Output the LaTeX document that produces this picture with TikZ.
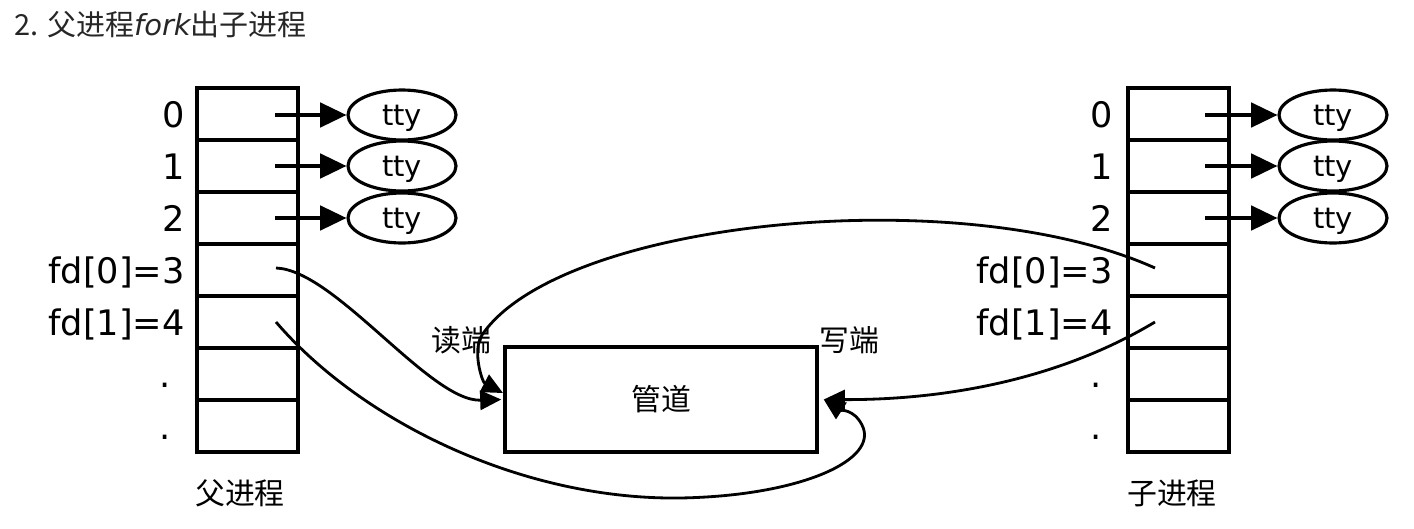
\documentclass[tikz,border=0pt]{standalone}
\usepackage{fontspec}
\setmainfont{DejaVu Sans}
\newfontfamily\cjk{Noto Sans CJK SC}
\usetikzlibrary{shapes.geometric,arrows.meta}
\begin{document}
\begin{tikzpicture}[x=0.02cm,y=-0.02cm,
  cell/.style={draw,line width=2pt,minimum width=2.02cm,minimum height=1.04cm,inner sep=0,outer sep=0},
  ttynode/.style={draw,ellipse,line width=1.8pt,minimum width=2.16cm,minimum height=1.0cm,inner sep=0,text depth=0pt,font=\fontsize{16.5}{18}\selectfont},
  lbl/.style={anchor=base east,inner sep=0,font=\fontsize{20}{22}\selectfont},
  dotlbl/.style={anchor=base,inner sep=0,font=\fontsize{20}{22}\selectfont},
  cn/.style={inner sep=0,font=\cjk\fontsize{17}{20}\selectfont},
  ptr/.style={line width=1.8pt,-{Triangle[length=15pt,width=14pt]}},
  link/.style={line width=1.6pt,-{Triangle[length=12pt,width=11pt]}},
]
\useasboundingbox (0,0) rectangle (1414,528);

% title
\node[anchor=base west,inner sep=0,font=\fontsize{16.5}{19}\selectfont,text=black!85] (title) at (14,35)
  {{\cjk 2. 父进程}{\itshape fork}{\cjk 出子进程}};

% tables
\foreach \i in {0,...,6} {
  \node[cell] (L\i) at (247.5,{114+52*\i}) {};
  \node[cell] (R\i) at (1178.5,{114+52*\i}) {};
}

% left labels
\node[lbl] (lL0) at (185,127) {0};
\node[lbl] (lL1) at (185,179) {1};
\node[lbl] (lL2) at (185,231) {2};
\node[lbl] (lL3) at (185,283) {fd[0]=3};
\node[lbl] (lL4) at (185,335) {fd[1]=4};
\node[dotlbl] (lL5) at (165,387) {.};
\node[dotlbl] (lL6) at (165,439) {.};

% right labels
\node[lbl] (lR0) at (1113,127) {0};
\node[lbl] (lR1) at (1113,179) {1};
\node[lbl] (lR2) at (1113,231) {2};
\node[lbl] (lR3) at (1113,283) {fd[0]=3};
\node[lbl] (lR4) at (1113,335) {fd[1]=4};
\node[dotlbl] (lR5) at (1096,387) {.};
\node[dotlbl] (lR6) at (1096,439) {.};

% tty ellipses
\foreach \i/\y in {0/115,1/166,2/218} {
  \node[ttynode] (TL\i) at (402,\y) {tty};
  \node[ttynode] (TR\i) at (1333,\y) {tty};
  \coordinate (sL\i) at (275,\y);
  \coordinate (sR\i) at (1205,\y);
  \draw[ptr] (sL\i) -- (TL\i.west);
  \draw[ptr] (sR\i) -- (TR\i.west);
}

% pipe
\node[draw,line width=2pt,minimum width=6.24cm,minimum height=2.1cm,inner sep=0,
      font=\cjk\fontsize{17}{20}\selectfont] (pipe) at (661,399.5) {管道};
\node[cn] (rd) at (461,340) {读端};
\node[cn] (wr) at (849,340) {写端};

% bottom labels
\node[cn] (pp) at (240,493) {父进程};
\node[cn] (cp) at (1172,493) {子进程};

% connectors
\coordinate (p3) at (276,268);
\coordinate (p4) at (276,322);
\coordinate (c3) at (1155,268);
\coordinate (c4) at (1155,322);
\coordinate (pin) at (503,393);

\draw[link] (p3) .. controls (335,270) and (430,402) .. ([xshift=-0.04cm]pipe.west);
\draw[link] (p4) .. controls (360,420) and (520,500) .. (680,498)
               .. controls (800,496) and (880,460) .. (862,425)
               .. controls (854,409) and (840,410) .. ([xshift=0.1cm]pipe.east);
\draw[link] (c3) .. controls (960,180) and (560,220) .. (482,335)
               .. controls (472,350) and (482,382) .. (pin);
\draw[link] (c4) .. controls (1050,385) and (930,400) .. ([xshift=0.1cm]pipe.east);
\end{tikzpicture}
\end{document}
